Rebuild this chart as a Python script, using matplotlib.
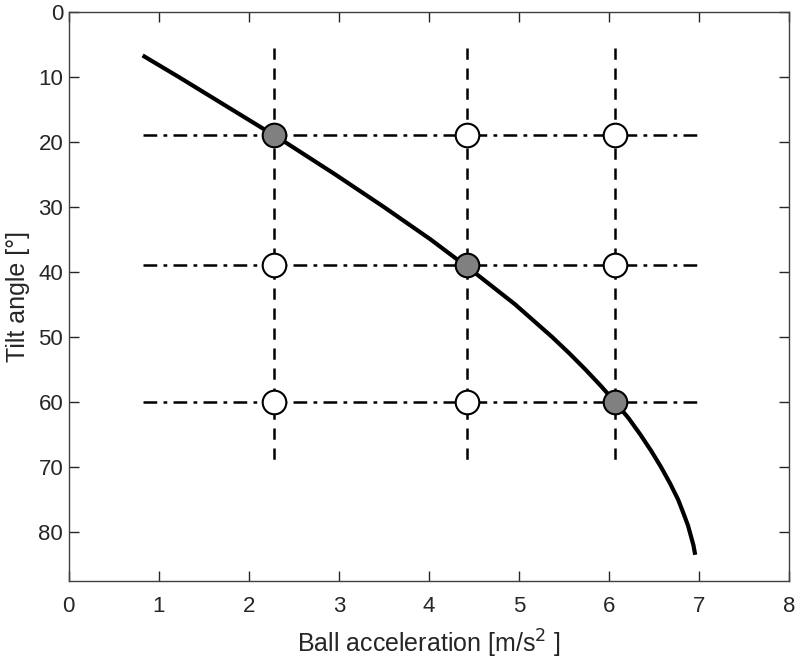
import matplotlib.pyplot as plt

plt.rcParams['font.family'] = ['Liberation Sans', 'DejaVu Sans']

# curve: tilt angle [deg] vs ball acceleration [m/s^2]
curve_angle = [6.7, 10, 15, 20, 25, 30, 35, 40, 45, 50, 52.5, 55, 57.5, 60, 62.5,
               65, 67.5, 70, 72.5, 75, 77.5, 79, 81, 82, 83.5]
curve_accel = [0.82, 1.22, 1.81, 2.40, 2.96, 3.50, 4.02, 4.50, 4.96, 5.37, 5.56,
               5.74, 5.91, 6.07, 6.22, 6.35, 6.47, 6.58, 6.68, 6.77, 6.84, 6.88,
               6.92, 6.94, 6.96]

# grid of tested conditions
grid_accel = [2.28, 4.42, 6.07]
grid_angle = [19, 39, 60]
vline_span = [5.5, 70]
hline_span = [0.82, 6.98]

# which condition lies on the curve (filled marker)
on_curve = [(2.28, 19), (4.42, 39), (6.07, 60)]

fig = plt.figure(figsize=(8, 6.6), dpi=100)
ax = fig.add_axes([0.086, 0.12, 0.9, 0.862])

for a in grid_accel:
    ax.plot([a, a], vline_span, '--', color='black', lw=1.8, dashes=(4.5, 3.5), zorder=1)
for t in grid_angle:
    ax.plot(hline_span, [t, t], '-.', color='black', lw=1.8, dashes=(5.5, 2.5, 1.5, 2.5), zorder=1)

ax.plot(curve_accel, curve_angle, '-', color='black', lw=3, zorder=2,
        solid_capstyle='butt')

for a in grid_accel:
    for t in grid_angle:
        face = '#808080' if (a, t) in on_curve else 'white'
        ax.plot(a, t, 'o', ms=17, mfc=face, mec='black', mew=1.5, zorder=3)

ax.set_xlim(0, 8)
ax.set_ylim(87.5, 0)
ax.set_xticks(range(0, 9))
ax.set_yticks(range(0, 90, 10))
ax.tick_params(direction='in', top=True, right=True, labelsize=16,
               colors='#262626', length=7, width=1)
ax.tick_params(axis='x', pad=11)
ax.tick_params(axis='y', pad=4)
for s in ax.spines.values():
    s.set_color('#404040')
    s.set_linewidth(1)
ax.set_xlabel('Ball acceleration [m/s$^2$ ]', fontsize=18, color='#262626', labelpad=8)
ax.set_ylabel('Tilt angle [°]', fontsize=18, color='#262626', labelpad=6)

fig.savefig('out.png', dpi=100)
